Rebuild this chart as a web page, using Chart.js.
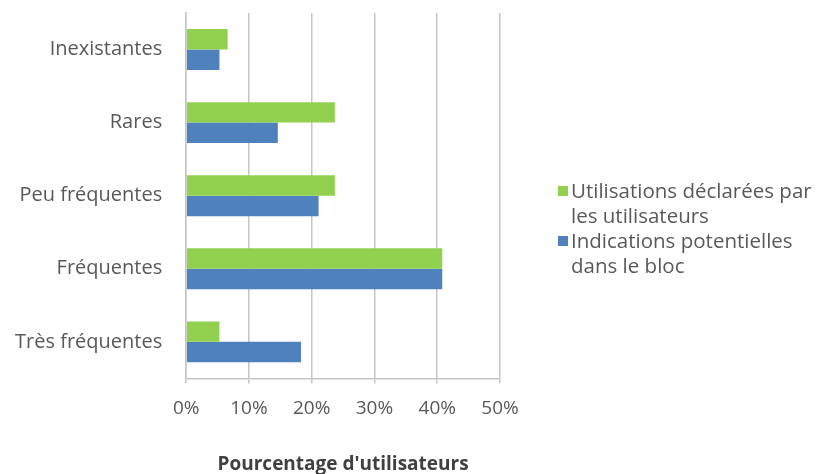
<!DOCTYPE html>
<html>
<head>
<meta charset="utf-8">
<script src="https://cdn.jsdelivr.net/npm/chart.js@4/dist/chart.umd.min.js"></script>
<style>
    body { margin: 0; background: #fff; }
    #wrap { position: relative; width: 824px; height: 474px; }
    #legend {
        position: absolute; left: 556px; top: 178px;
        font-family: "Open Sans", sans-serif; font-size: 20.5px; color: #595959;
        line-height: 25px; white-space: nowrap;
    }
    .item { position: relative; padding-left: 15px; }
    .swatch { position: absolute; left: 2px; top: 8px; width: 10px; height: 10px; }
</style>
</head>
<body>
<div id="wrap">
    <canvas id="chart"></canvas>
    <div id="legend"></div>
</div>
<script>
// Frequency categories, top to bottom
const categories = ['Inexistantes', 'Rares', 'Peu fréquentes', 'Fréquentes', 'Très fréquentes'];

// Percentage of users per category
const declaredUse = [6.6, 23.7, 23.7, 40.8, 5.3];
const potentialUse = [5.3, 14.6, 21.1, 40.8, 18.3];

// Legend text, one entry per line
const declaredLines = ['Utilisations déclarées par', 'les utilisateurs'];
const potentialLines = ['Indications potentielles', 'dans le bloc'];

const xTicks = [0, 10, 20, 30, 40, 50];
const axisTitle = "Pourcentage d'utilisateurs";

const GREEN = '#92D050';
const BLUE = '#4F81BD';
const FONT = '"Open Sans", sans-serif';

const series = [
    { lines: declaredLines, data: declaredUse, color: GREEN },
    { lines: potentialLines, data: potentialUse, color: BLUE }
];

new Chart(document.getElementById('chart'), {
    type: 'bar',
    data: {
        labels: categories,
        datasets: series.map(s => ({
            label: s.lines.join(' '),
            data: s.data,
            backgroundColor: s.color,
            borderWidth: 0,
            categoryPercentage: 0.56,
            barPercentage: 1
        }))
    },
    options: {
        indexAxis: 'y',
        responsive: true,
        maintainAspectRatio: false,
        animation: false,
        layout: { padding: { left: 14, right: 324, top: 0, bottom: -2 } },
        plugins: {
            legend: { display: false },
            tooltip: { enabled: false }
        },
        scales: {
            x: {
                min: 0,
                max: 50,
                afterBuildTicks: axis => { axis.ticks = xTicks.map(v => ({ value: v })); },
                ticks: {
                    callback: v => v + '%',
                    color: '#595959',
                    font: { family: FONT, size: 19 },
                    padding: 14
                },
                grid: { color: '#c6c6c6', lineWidth: 1.5, tickLength: 5 },
                border: { color: '#c6c6c6', width: 1.5 },
                title: {
                    display: true,
                    text: axisTitle,
                    color: '#404040',
                    font: { family: FONT, size: 19, weight: 'bold' },
                    padding: { top: 19, bottom: 0 }
                }
            },
            y: {
                ticks: {
                    color: '#595959',
                    font: { family: FONT, size: 20 },
                    padding: 1
                },
                // invisible tick marks keep the labels clear of the axis
                grid: { drawOnChartArea: false, drawTicks: true, tickLength: 23, tickColor: 'rgba(0,0,0,0)' },
                border: { color: '#c6c6c6', width: 1.5 }
            }
        }
    }
});

// Legend with wrapped labels, built from the same series
const legend = document.getElementById('legend');
series.forEach(s => {
    const item = document.createElement('div');
    item.className = 'item';
    const sw = document.createElement('span');
    sw.className = 'swatch';
    sw.style.background = s.color;
    item.appendChild(sw);
    s.lines.forEach((line, i) => {
        if (i) item.appendChild(document.createElement('br'));
        item.appendChild(document.createTextNode(line));
    });
    legend.appendChild(item);
});
</script>
</body>
</html>
